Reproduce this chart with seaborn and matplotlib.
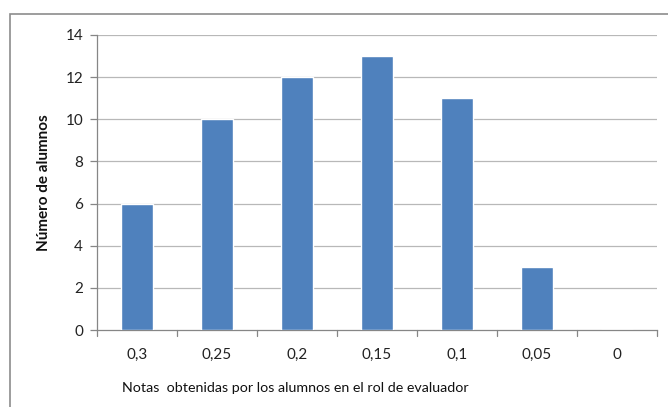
import matplotlib
matplotlib.use("Agg")
import matplotlib.pyplot as plt
import matplotlib.patches as mpatches
import seaborn as sns
import pandas as pd

notas = ["0,3", "0,25", "0,2", "0,15", "0,1", "0,05", "0"]
alumnos = [6, 10, 12, 13, 11, 3, 0]
y_ticks = [0, 2, 4, 6, 8, 10, 12, 14]

df = pd.DataFrame({"nota": notas, "alumnos": alumnos})

sns.set_theme(style="white")
plt.rcParams["font.family"] = ["Lato", "DejaVu Sans"]

fig = plt.figure(figsize=(6.68, 4.07), dpi=100)
ax = fig.add_axes([97 / 668, 1 - 330 / 407, 560 / 668, 295 / 407])

sns.barplot(data=df, x="nota", y="alumnos", color="#4f81bd", width=0.4,
            saturation=1, ax=ax, zorder=3)

ax.set_ylim(0, 14)
ax.set_xlim(-0.5, len(notas) - 0.5)
ax.set_yticks(y_ticks)
ax.set_yticklabels([str(t) for t in y_ticks], fontsize=11, color="#222222")
ax.tick_params(axis="x", labelsize=11, colors="#222222", length=0, pad=13)
ax.tick_params(axis="y", length=5, width=0.9, color="#868686", left=True, pad=5)

# grid lines
for t in y_ticks[1:]:
    ax.axhline(t, color="#b8b8b8", lw=0.9, zorder=1)

# category separator ticks below the x axis
for i in range(len(notas) + 1):
    ax.plot([i - 0.5, i - 0.5], [0, -0.28], color="#868686", lw=0.9,
            clip_on=False, zorder=2)

for side in ["top", "right"]:
    ax.spines[side].set_visible(False)
for side in ["left", "bottom"]:
    ax.spines[side].set_color("#868686")
    ax.spines[side].set_linewidth(0.9)

ax.set_xlabel("Notas  obtenidas por los alumnos en el rol de evaluador",
              fontsize=10.3, color="#111111")
ax.xaxis.set_label_coords(0.355, -0.175)
ax.set_ylabel("Número de alumnos", fontsize=11, fontweight="bold",
              color="#111111", labelpad=10)

# chart frame
frame = mpatches.Rectangle((10 / 668, -0.1), 1.0, 1 - 14 / 407 + 0.1,
                           transform=fig.transFigure, fill=False,
                           edgecolor="#8c8c8c", lw=1.2)
fig.patches.append(frame)

fig.savefig("out.png", dpi=100)
